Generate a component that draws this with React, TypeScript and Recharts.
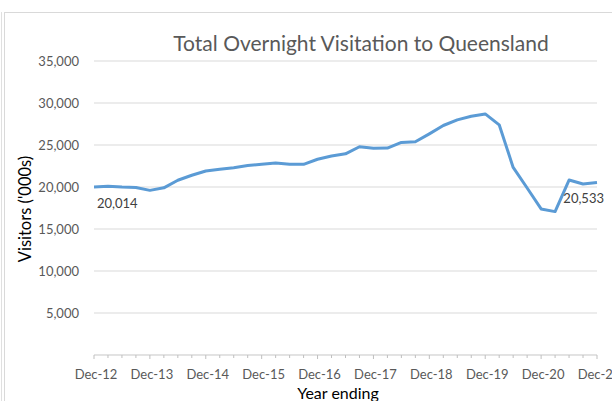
import React from 'react';
import { LineChart, Line, XAxis, YAxis, CartesianGrid, LabelList } from 'recharts';

const quarters = [
  'Dec-12', 'Mar-13', 'Jun-13', 'Sep-13',
  'Dec-13', 'Mar-14', 'Jun-14', 'Sep-14',
  'Dec-14', 'Mar-15', 'Jun-15', 'Sep-15',
  'Dec-15', 'Mar-16', 'Jun-16', 'Sep-16',
  'Dec-16', 'Mar-17', 'Jun-17', 'Sep-17',
  'Dec-17', 'Mar-18', 'Jun-18', 'Sep-18',
  'Dec-18', 'Mar-19', 'Jun-19', 'Sep-19',
  'Dec-19', 'Mar-20', 'Jun-20', 'Sep-20',
  'Dec-20', 'Mar-21', 'Jun-21', 'Sep-21',
  'Dec-21',
];

const visitors = [
  20014, 20100, 20000, 19950,
  19600, 19900, 20800, 21400,
  21900, 22100, 22300, 22550,
  22700, 22850, 22700, 22700,
  23300, 23700, 23950, 24790,
  24600, 24630, 25300, 25380,
  26330, 27320, 27990, 28430,
  28700, 27400, 22330, 19880,
  17390, 17070, 20830, 20360,
  20533,
];

const yTicks = [0, 5000, 10000, 15000, 20000, 25000, 30000, 35000];
const labelledIndexes = [0, 36];

const data = quarters.map((q, i) => ({ q, v: visitors[i] }));

const FONT = 'Lato, "Open Sans", sans-serif';

const QuarterTick = (props: any) => {
  const { x, y, index, payload } = props;
  const major = index % 4 === 0;
  return (
    <g>
      <line x1={x} x2={x} y1={y} y2={y + (major ? 4 : 3)} stroke="#BFBFBF" strokeWidth={1} />
      {major && (
        <text x={x + 2} y={y + 24} textAnchor="middle" fontFamily={FONT} fontSize={13} fill="#595959">
          {payload.value}
        </text>
      )}
    </g>
  );
};

const PointLabel = (props: any) => {
  const { x, y, value, index } = props;
  if (!labelledIndexes.includes(index)) return null;
  const first = index === 0;
  return (
    <text
      x={first ? x + 3 : x + 7}
      y={first ? y + 21 : y + 20}
      textAnchor={first ? 'start' : 'end'}
      fontFamily={FONT}
      fontSize={13}
      fill="#404040"
    >
      {Number(value).toLocaleString('en-US')}
    </text>
  );
};

export default function App() {
  return (
    <div style={{ position: 'absolute', left: 0, top: 0, width: 612, height: 401, background: '#fff', overflow: 'hidden' }}>
      <div style={{ position: 'absolute', left: 4, top: 12, width: 640, height: 420, border: '1px solid #D9D9D9', boxSizing: 'border-box' }} />
      <div style={{ position: 'absolute', left: 1, top: 12, width: 1, height: 400, background: '#E0E0E0' }} />
      <div
        style={{
          position: 'absolute',
          left: 0,
          top: 31,
          width: 722,
          textAlign: 'center',
          fontFamily: FONT,
          fontSize: 21,
          color: '#595959',
          lineHeight: '24px',
          whiteSpace: 'nowrap',
        }}
      >
        Total Overnight Visitation to Queensland
      </div>
      <div style={{ position: 'absolute', left: 0, top: 0 }}>
        <LineChart width={612} height={401} data={data} margin={{ top: 61, right: 15, bottom: 0, left: 0 }}>
          <CartesianGrid vertical={false} stroke="#D9D9D9" strokeWidth={1} />
          <XAxis
            dataKey="q"
            interval={0}
            height={46}
            tickSize={0}
            tickMargin={0}
            tickLine={false}
            axisLine={{ stroke: '#D9D9D9' }}
            tick={<QuarterTick />}
            label={{
              content: () => (
                <text x={338} y={399} textAnchor="middle" fontFamily={FONT} fontSize={16} fill="#000">
                  Year ending
                </text>
              ),
            }}
          />
          <YAxis
            width={94}
            domain={[0, 35000]}
            ticks={yTicks}
            interval={0}
            axisLine={false}
            tickLine={false}
            tickSize={6}
            tickMargin={9}
            tick={{ fontFamily: FONT, fontSize: 13, fill: '#595959' }}
            tickFormatter={(v: number) => (v === 0 ? '' : v.toLocaleString('en-US'))}
            label={{
              content: () => (
                <text
                  x={31}
                  y={209}
                  transform="rotate(-90 31 209)"
                  textAnchor="middle"
                  fontFamily={FONT}
                  fontSize={16.5}
                  fill="#000"
                >
                  Visitors ('000s)
                </text>
              ),
            }}
          />
          <Line
            type="linear"
            dataKey="v"
            stroke="#5B9BD5"
            strokeWidth={3}
            dot={false}
            strokeLinejoin="round"
            isAnimationActive={false}
          >
            <LabelList dataKey="v" content={<PointLabel />} />
          </Line>
        </LineChart>
      </div>
    </div>
  );
}
